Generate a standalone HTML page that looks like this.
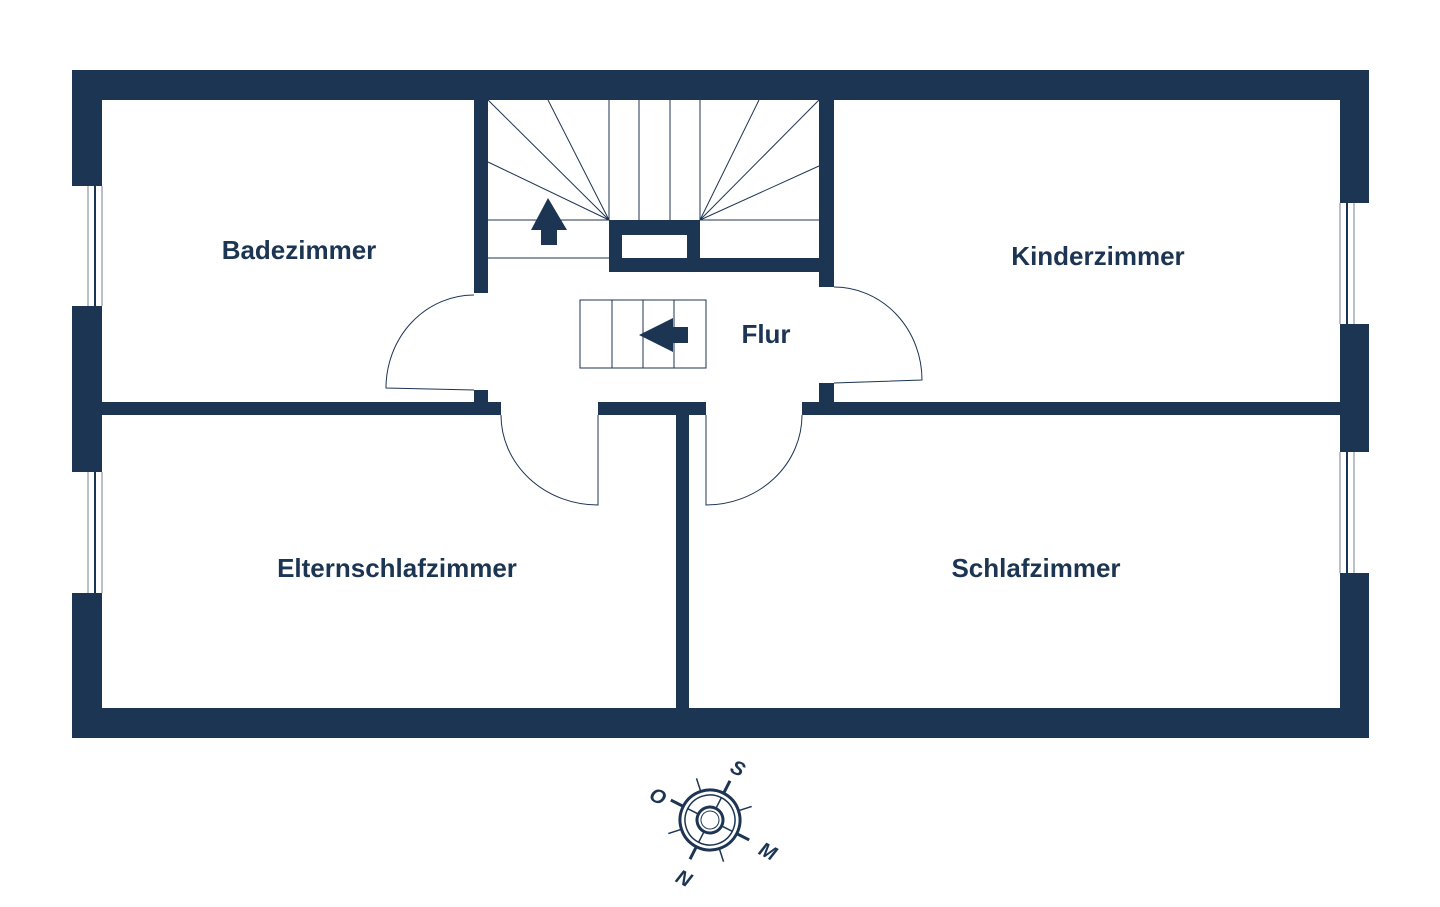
<!DOCTYPE html>
<html><head><style>
html,body{margin:0;padding:0;background:#fff;}
svg{display:block;}
text{font-family:"Liberation Sans",sans-serif;font-weight:bold;fill:#1c3553;}
</style></head><body>
<svg width="1440" height="907" viewBox="0 0 1440 907" xmlns="http://www.w3.org/2000/svg">
<g fill="#1c3553">
<rect x="72" y="70" width="1297" height="30"/>
<rect x="72" y="708" width="1297" height="30"/>
<rect x="72" y="70" width="30" height="116"/>
<rect x="72" y="306" width="30" height="166"/>
<rect x="72" y="593" width="30" height="145"/>
<rect x="1340" y="70" width="29" height="133"/>
<rect x="1340" y="324" width="29" height="128"/>
<rect x="1340" y="573" width="29" height="165"/>
<rect x="474" y="100" width="14" height="193"/>
<rect x="474" y="390" width="14" height="25"/>
<rect x="102" y="402" width="399" height="13"/>
<rect x="598" y="402" width="108" height="13"/>
<rect x="676" y="402" width="13" height="306"/>
<rect x="802" y="402" width="538" height="13"/>
<rect x="819" y="100" width="15" height="187"/>
<rect x="819" y="383" width="15" height="32"/>
<rect x="609" y="258" width="225" height="14"/>
<rect x="609" y="220" width="13" height="40"/>
<rect x="687" y="220" width="13" height="40"/>
<rect x="609" y="220" width="91" height="15"/>
<polygon points="548,198 567,230 557,230 557,245 541,245 541,230 531,230"/>
<polygon points="639,335 673,318 673,327 688,327 688,343 673,343 673,352"/>
</g>
<g stroke="#1c3553" stroke-width="1" fill="none">
<line x1="488" y1="220" x2="609" y2="220"/>
<line x1="488" y1="258" x2="609" y2="258"/>
<line x1="609" y1="220" x2="488" y2="100"/>
<line x1="609" y1="220" x2="548" y2="100"/>
<line x1="609" y1="220" x2="488" y2="162"/>
<line x1="609" y1="100" x2="609" y2="220"/>
<line x1="639" y1="100" x2="639" y2="220"/>
<line x1="670" y1="100" x2="670" y2="220"/>
<line x1="700" y1="100" x2="700" y2="220"/>
<line x1="700" y1="220" x2="819" y2="100"/>
<line x1="700" y1="220" x2="759" y2="100"/>
<line x1="700" y1="220" x2="819" y2="166"/>
<line x1="700" y1="220" x2="819" y2="220"/>
<rect x="580" y="300" width="126" height="68"/>
<line x1="612" y1="300" x2="612" y2="368"/>
<line x1="643" y1="300" x2="643" y2="368"/>
<line x1="674" y1="300" x2="674" y2="368"/>
<path d="M474,295 A88,93 0 0 0 386,388 L474,390"/>
<path d="M834,287 A88,93 0 0 1 922,380 L834,383"/>
<path d="M501,415 A97,90 0 0 0 598,505 L598,415"/>
<path d="M802,415 A96,90 0 0 1 706,505 L706,415"/>
<g stroke="#7a8290">
<line x1="88" y1="186" x2="88" y2="306"/><line x1="102" y1="186" x2="102" y2="306"/>
<line x1="88" y1="472" x2="88" y2="593"/><line x1="102" y1="472" x2="102" y2="593"/>
<line x1="1340" y1="203" x2="1340" y2="324"/><line x1="1354" y1="203" x2="1354" y2="324"/>
<line x1="1340" y1="452" x2="1340" y2="573"/><line x1="1354" y1="452" x2="1354" y2="573"/>
</g>
<g stroke="#1c3553" stroke-width="2">
<line x1="95" y1="186" x2="95" y2="306"/><line x1="95" y1="472" x2="95" y2="593"/>
<line x1="1347" y1="203" x2="1347" y2="324"/><line x1="1347" y1="452" x2="1347" y2="573"/>
</g>
</g>
<text x="299" y="259" font-size="26" text-anchor="middle">Badezimmer</text>
<text x="1098" y="265" font-size="26" text-anchor="middle">Kinderzimmer</text>
<text x="766" y="343" font-size="26" text-anchor="middle">Flur</text>
<text x="397" y="577" font-size="26" text-anchor="middle">Elternschlafzimmer</text>
<text x="1036" y="577" font-size="26" text-anchor="middle">Schlafzimmer</text>
<g transform="translate(710,820) rotate(27)" stroke="#1c3553" fill="none">
<circle r="30" stroke-width="3"/>
<circle r="25" stroke-width="1.5"/>
<circle r="13" stroke-width="3"/>
<circle r="9" stroke-width="1"/>
<g stroke-width="3">
<line x1="0" y1="-30" x2="0" y2="-44"/><line x1="0" y1="30" x2="0" y2="44"/>
<line x1="-30" y1="0" x2="-44" y2="0"/><line x1="30" y1="0" x2="44" y2="0"/>
</g>
<g stroke-width="1.5">
<line x1="21" y1="-21" x2="31" y2="-31"/><line x1="-21" y1="-21" x2="-31" y2="-31"/>
<line x1="21" y1="21" x2="31" y2="31"/><line x1="-21" y1="21" x2="-31" y2="31"/>
<line x1="0" y1="-13" x2="0" y2="-25"/><line x1="0" y1="13" x2="0" y2="25"/>
<line x1="-13" y1="0" x2="-25" y2="0"/><line x1="13" y1="0" x2="25" y2="0"/>
</g>
</g>
<g font-size="20" font-style="italic">
<text x="738" y="775" text-anchor="middle" transform="rotate(27 738 768)">S</text>
<text x="684" y="885" text-anchor="middle" transform="rotate(27 684 878)">N</text>
<text x="658" y="803" text-anchor="middle" transform="rotate(27 658 796)">O</text>
<text x="768" y="858" text-anchor="middle" transform="rotate(27 768 851)">M</text>
</g>
</svg>
</body></html>
